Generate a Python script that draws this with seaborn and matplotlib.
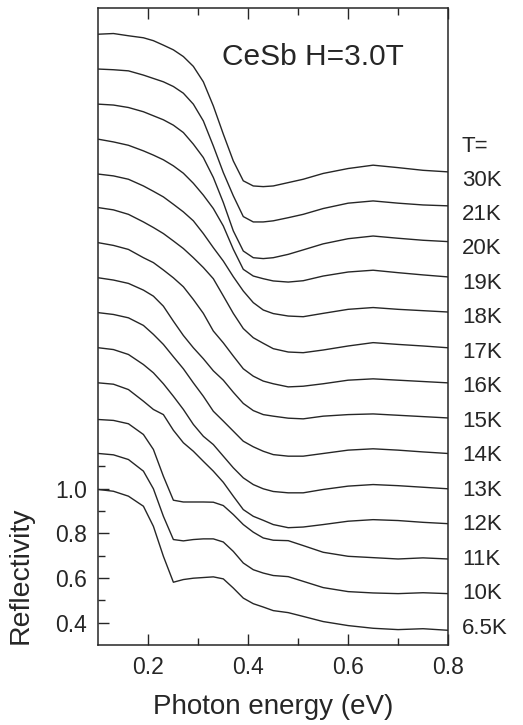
import matplotlib
matplotlib.use("Agg")
import pandas as pd
import seaborn as sns
import matplotlib.pyplot as plt
from matplotlib.ticker import FixedLocator

# photon energy grid (eV)
energy = [0.10, 0.13, 0.16, 0.19, 0.21, 0.23, 0.25, 0.27, 0.29, 0.31, 0.33, 0.35, 0.37,
          0.39, 0.41, 0.43, 0.45, 0.48, 0.51, 0.55, 0.60, 0.65, 0.70, 0.75, 0.80]

# reflectivity curves (offset as in the figure)
r_30K = [3.033, 3.036, 3.026, 3.017, 3.004, 2.984, 2.963, 2.933, 2.889, 2.820, 2.712, 2.586, 2.466,
         2.377, 2.354, 2.351, 2.354, 2.369, 2.384, 2.410, 2.432, 2.447, 2.436, 2.424, 2.417]
r_21K = [2.877, 2.874, 2.869, 2.850, 2.835, 2.820, 2.799, 2.769, 2.720, 2.645, 2.533, 2.414, 2.310,
         2.217, 2.193, 2.193, 2.198, 2.212, 2.227, 2.253, 2.277, 2.287, 2.277, 2.269, 2.265]
r_20K = [2.720, 2.716, 2.705, 2.686, 2.668, 2.650, 2.626, 2.593, 2.541, 2.481, 2.392, 2.280, 2.153,
         2.063, 2.033, 2.029, 2.033, 2.048, 2.068, 2.095, 2.118, 2.130, 2.120, 2.111, 2.105]
r_19K = [2.563, 2.551, 2.536, 2.511, 2.492, 2.471, 2.444, 2.411, 2.366, 2.313, 2.253, 2.175, 2.071,
         1.981, 1.951, 1.939, 1.929, 1.924, 1.930, 1.951, 1.969, 1.977, 1.966, 1.956, 1.947]
r_18K = [2.407, 2.399, 2.384, 2.354, 2.330, 2.305, 2.272, 2.238, 2.198, 2.141, 2.078, 2.018, 1.948,
         1.884, 1.832, 1.799, 1.783, 1.772, 1.769, 1.784, 1.802, 1.810, 1.802, 1.796, 1.790]
r_17K = [2.257, 2.247, 2.227, 2.193, 2.168, 2.141, 2.108, 2.074, 2.033, 1.989, 1.939, 1.862, 1.784,
         1.716, 1.675, 1.650, 1.626, 1.611, 1.608, 1.620, 1.638, 1.653, 1.645, 1.638, 1.630]
r_16K = [2.100, 2.088, 2.070, 2.033, 2.011, 1.978, 1.943, 1.903, 1.846, 1.784, 1.705, 1.652, 1.593,
         1.536, 1.503, 1.481, 1.469, 1.455, 1.458, 1.469, 1.485, 1.491, 1.485, 1.479, 1.473]
r_15K = [1.943, 1.933, 1.918, 1.888, 1.861, 1.816, 1.749, 1.685, 1.630, 1.581, 1.527, 1.485, 1.431,
         1.381, 1.349, 1.331, 1.324, 1.315, 1.312, 1.324, 1.331, 1.334, 1.328, 1.322, 1.316]
r_14K = [1.787, 1.779, 1.764, 1.730, 1.690, 1.645, 1.590, 1.536, 1.473, 1.413, 1.346, 1.302, 1.257,
         1.212, 1.187, 1.167, 1.152, 1.145, 1.145, 1.157, 1.172, 1.178, 1.172, 1.164, 1.157]
r_13K = [1.630, 1.622, 1.600, 1.555, 1.518, 1.469, 1.413, 1.354, 1.287, 1.234, 1.197, 1.145, 1.093,
         1.048, 1.018, 0.999, 0.987, 0.981, 0.981, 0.996, 1.011, 1.018, 1.013, 1.006, 0.999]
r_12K = [1.473, 1.467, 1.443, 1.391, 1.354, 1.331, 1.261, 1.205, 1.167, 1.122, 1.078, 1.028, 0.966,
         0.906, 0.876, 0.858, 0.839, 0.825, 0.828, 0.839, 0.854, 0.861, 0.857, 0.849, 0.843]
r_11K = [1.309, 1.305, 1.290, 1.242, 1.175, 1.055, 0.948, 0.940, 0.940, 0.940, 0.939, 0.924, 0.884,
         0.839, 0.805, 0.779, 0.769, 0.767, 0.745, 0.715, 0.697, 0.691, 0.685, 0.690, 0.685]
r_10K = [1.157, 1.151, 1.130, 1.078, 0.999, 0.876, 0.772, 0.766, 0.772, 0.775, 0.775, 0.761, 0.719,
         0.667, 0.637, 0.622, 0.611, 0.606, 0.585, 0.557, 0.539, 0.533, 0.530, 0.534, 0.530]
r_6_5K = [0.996, 0.988, 0.966, 0.921, 0.831, 0.697, 0.581, 0.593, 0.599, 0.602, 0.605, 0.596, 0.555,
          0.510, 0.485, 0.470, 0.454, 0.445, 0.428, 0.405, 0.387, 0.375, 0.369, 0.373, 0.366]

temps = ["30K", "21K", "20K", "19K", "18K", "17K", "16K", "15K", "14K", "13K", "12K", "11K", "10K", "6.5K"]
curves = [r_30K, r_21K, r_20K, r_19K, r_18K, r_17K, r_16K, r_15K, r_14K, r_13K, r_12K, r_11K, r_10K, r_6_5K]

rows = []
for t, vals in zip(temps, curves):
    for e, r in zip(energy, vals):
        rows.append({"energy": e, "R": r, "T": t})
df = pd.DataFrame(rows)

sns.set_style("ticks")
plt.rcParams["font.family"] = ["Liberation Sans", "DejaVu Sans"]
ink = "#262626"

fig = plt.figure(figsize=(5.23, 7.25), dpi=100)
ax = fig.add_axes([0.1883, 0.1103, 0.6683, 0.8786])

sns.lineplot(data=df, x="energy", y="R", units="T", estimator=None, sort=False,
             color=ink, linewidth=1.0, solid_joinstyle="round", ax=ax)

ax.set_xlim(0.1, 0.8)
ax.set_ylim(0.3, 3.15)

ax.xaxis.set_major_locator(FixedLocator([0.2, 0.4, 0.6, 0.8]))
ax.xaxis.set_minor_locator(FixedLocator([0.3, 0.5, 0.7]))
ax.yaxis.set_major_locator(FixedLocator([0.4, 0.6, 0.8, 1.0]))
ax.yaxis.set_minor_locator(FixedLocator([0.5, 0.7, 0.9, 1.1]))
ax.set_xticklabels(["0.2", "0.4", "0.6", "0.8"])
ax.set_yticklabels(["0.4", "0.6", "0.8", "1.0"])

ax.tick_params(which="both", direction="in", top=True, right=False, colors=ink,
               width=1.0, labelsize=16.5, pad=8)
ax.tick_params(which="major", length=8)
ax.tick_params(which="minor", length=5)
for s in ax.spines.values():
    s.set_linewidth(1.1)
    s.set_color(ink)

ax.set_xlabel("Photon energy (eV)", fontsize=20, color=ink, labelpad=11)
ax.set_ylabel("Reflectivity", fontsize=20.5, color=ink)
ax.yaxis.set_label_coords(-0.185, 0.11)

ax.text(0.353, 0.910, "CeSb H=3.0T", transform=ax.transAxes, fontsize=21.5,
        color=ink, ha="left", va="baseline")

ax.text(1.04, 0.782, "T=", transform=ax.transAxes, fontsize=16, color=ink,
        ha="left", va="center", clip_on=False)
for i, t in enumerate(temps):
    ax.text(1.04, 0.730 - i * 0.0541, t, transform=ax.transAxes, fontsize=16,
            color=ink, ha="left", va="center", clip_on=False)

fig.savefig("out.png", dpi=100)
